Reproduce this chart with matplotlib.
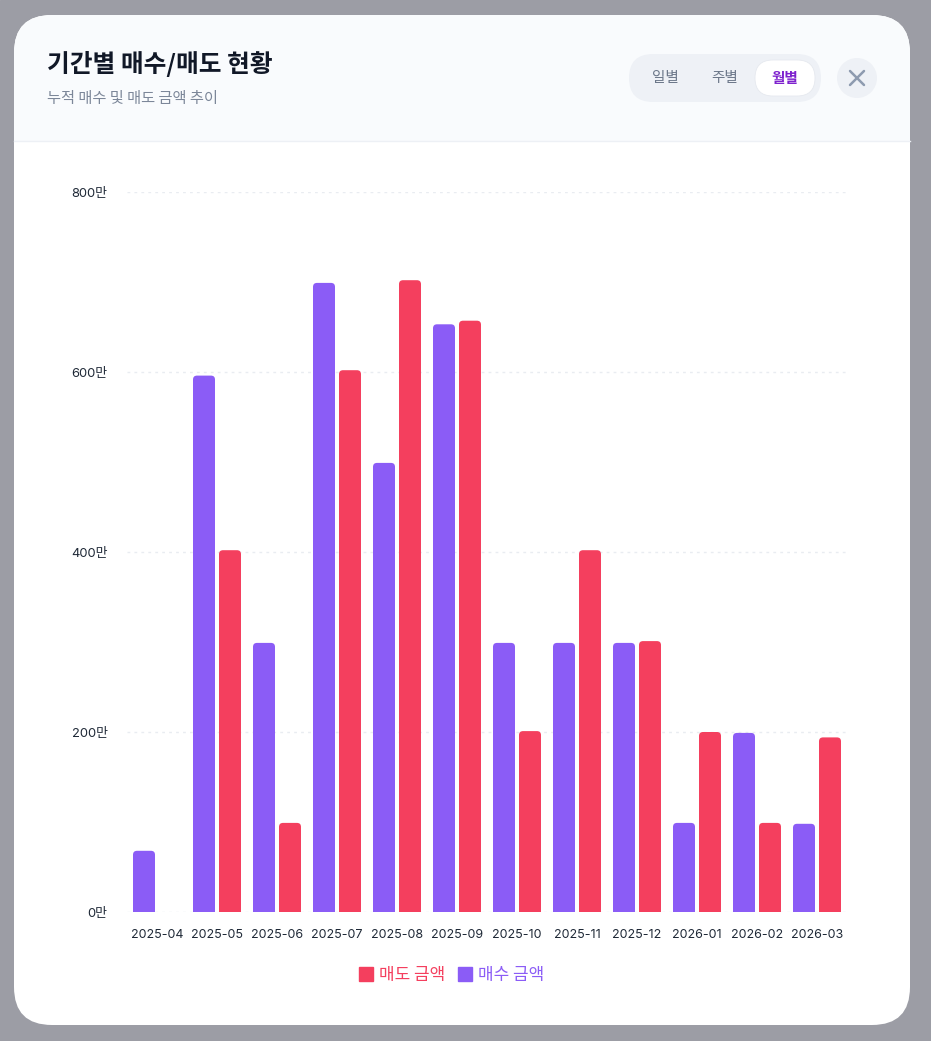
import matplotlib
matplotlib.use("Agg")
import matplotlib.pyplot as plt
from matplotlib.patches import FancyBboxPatch, Rectangle, Circle
from matplotlib.lines import Line2D

plt.rcParams['font.family'] = ['Inter', 'Noto Sans CJK KR', 'DejaVu Sans']

months = ['2025-04', '2025-05', '2025-06', '2025-07', '2025-08', '2025-09',
          '2025-10', '2025-11', '2025-12', '2026-01', '2026-02', '2026-03']
buy = [68, 596, 299, 699, 499, 653, 299, 299, 299, 99, 199, 98]     # 매수 (만원)
sell = [0, 402, 99, 602, 702, 657, 201, 402, 301, 200, 99, 194]     # 매도 (만원)
y_ticks = [0, 200, 400, 600, 800]
periods = ['일별', '주별', '월별']

BUY_C = '#8b5cf6'
SELL_C = '#f43f5e'

W, H = 931, 1041
fig = plt.figure(figsize=(W / 100, H / 100), dpi=100)

# overlay in pixel coordinates for the modal frame
bg = fig.add_axes([0, 0, 1, 1], zorder=0)
bg.set_xlim(0, W)
bg.set_ylim(H, 0)
bg.axis('off')
bg.add_patch(Rectangle((0, 0), W, H, color='#9c9da5'))

card = FancyBboxPatch((14, 15), 896, 1010, boxstyle="round,pad=0,rounding_size=38",
                      fc='white', ec='none')
bg.add_patch(card)
header = Rectangle((14, 15), 896, 126, fc='#f9fbfd', ec='none')
bg.add_patch(header)
header.set_clip_path(card)
bg.plot([14, 910], [141, 141], color='#edf0f5', lw=1)

bg.text(47, 64, '기간별 매수/매도 현황', fontsize=17.8, fontweight='bold',
        color='#111827', va='center', family=['Noto Sans CJK KR'])
bg.text(47, 98, '누적 매수 및 매도 금액 추이', fontsize=11, color='#7c8799',
        va='center', family=['Noto Sans CJK KR'])

# segmented control
bg.add_patch(FancyBboxPatch((629, 54), 192, 48, boxstyle="round,pad=0,rounding_size=24",
                            fc='#eef1f6', ec='none'))
bg.add_patch(FancyBboxPatch((755, 60), 60, 36, boxstyle="round,pad=0,rounding_size=18",
                            fc='white', ec='#e6e9ef', lw=0.6))
for i, p in enumerate(periods):
    sel = p == '월별'
    bg.text(665 + 60 * i, 78, p, ha='center', va='center', fontsize=10.5,
            color='#7e22ce' if sel else '#6b7789',
            fontweight='bold' if sel else 'normal', family=['Noto Sans CJK KR'])

# close button
bg.add_patch(Circle((857, 78), 20, fc='#eef1f6', ec='none'))
bg.plot([850, 864], [71, 85], color='#8e9bb0', lw=1.8, solid_capstyle='round')
bg.plot([850, 864], [85, 71], color='#8e9bb0', lw=1.8, solid_capstyle='round')

# chart
ax = fig.add_axes([127 / W, 1 - 912 / H, 720 / W, 720 / H], zorder=1)
ax.patch.set_alpha(0)
x = list(range(len(months)))
bw = 22 / 60
off = 13 / 60
ax.set_xlim(-0.5, len(months) - 0.5)
ax.set_ylim(0, 800)

r_x = 4 / 60
r_y = 4 / 0.9
for vals, sign, col in [(buy, -1, BUY_C), (sell, 1, SELL_C)]:
    pos = [xi + sign * off for xi in x]
    bars = ax.bar(pos, [max(v - r_y * 2, 0) for v in vals], width=bw, color=col, zorder=3)
    for b, v in zip(bars, vals):
        if v <= 0:
            continue
        top = FancyBboxPatch((b.get_x(), max(v - r_y * 3, 0)), bw, min(r_y * 3, v),
                             boxstyle=f"round,pad=0,rounding_size={r_x}",
                             mutation_aspect=r_y / r_x, fc=col, ec='none', zorder=3)
        ax.add_patch(top)

for t in y_ticks:
    ax.axhline(t, color='#e9ecf1', lw=1, ls=(0, (2, 3)), zorder=1)

for s in ax.spines.values():
    s.set_visible(False)
ax.set_yticks(y_ticks)
ax.set_yticklabels([f'{t}만' for t in y_ticks], fontsize=9.3, color='#1f2937')
ax.set_xticks(x)
ax.set_xticklabels(months, fontsize=9, color='#1f2937')
ax.tick_params(axis='both', length=0)
ax.tick_params(axis='y', pad=14)
ax.tick_params(axis='x', pad=12)

handles = [Line2D([], [], marker='s', ls='none', ms=10, mfc=SELL_C, mec=SELL_C, label='매도 금액'),
           Line2D([], [], marker='s', ls='none', ms=10, mfc=BUY_C, mec=BUY_C, label='매수 금액')]
fig.legend(handles=handles, loc='center', bbox_to_anchor=(451 / W, 1 - 975 / H), ncol=2,
           frameon=False, labelcolor='markerfacecolor',
           handletextpad=0.25, columnspacing=0.7, handlelength=1.0,
           prop={'family': ['Noto Sans CJK KR'], 'size': 12.2})

fig.savefig('out.png', dpi=100)
